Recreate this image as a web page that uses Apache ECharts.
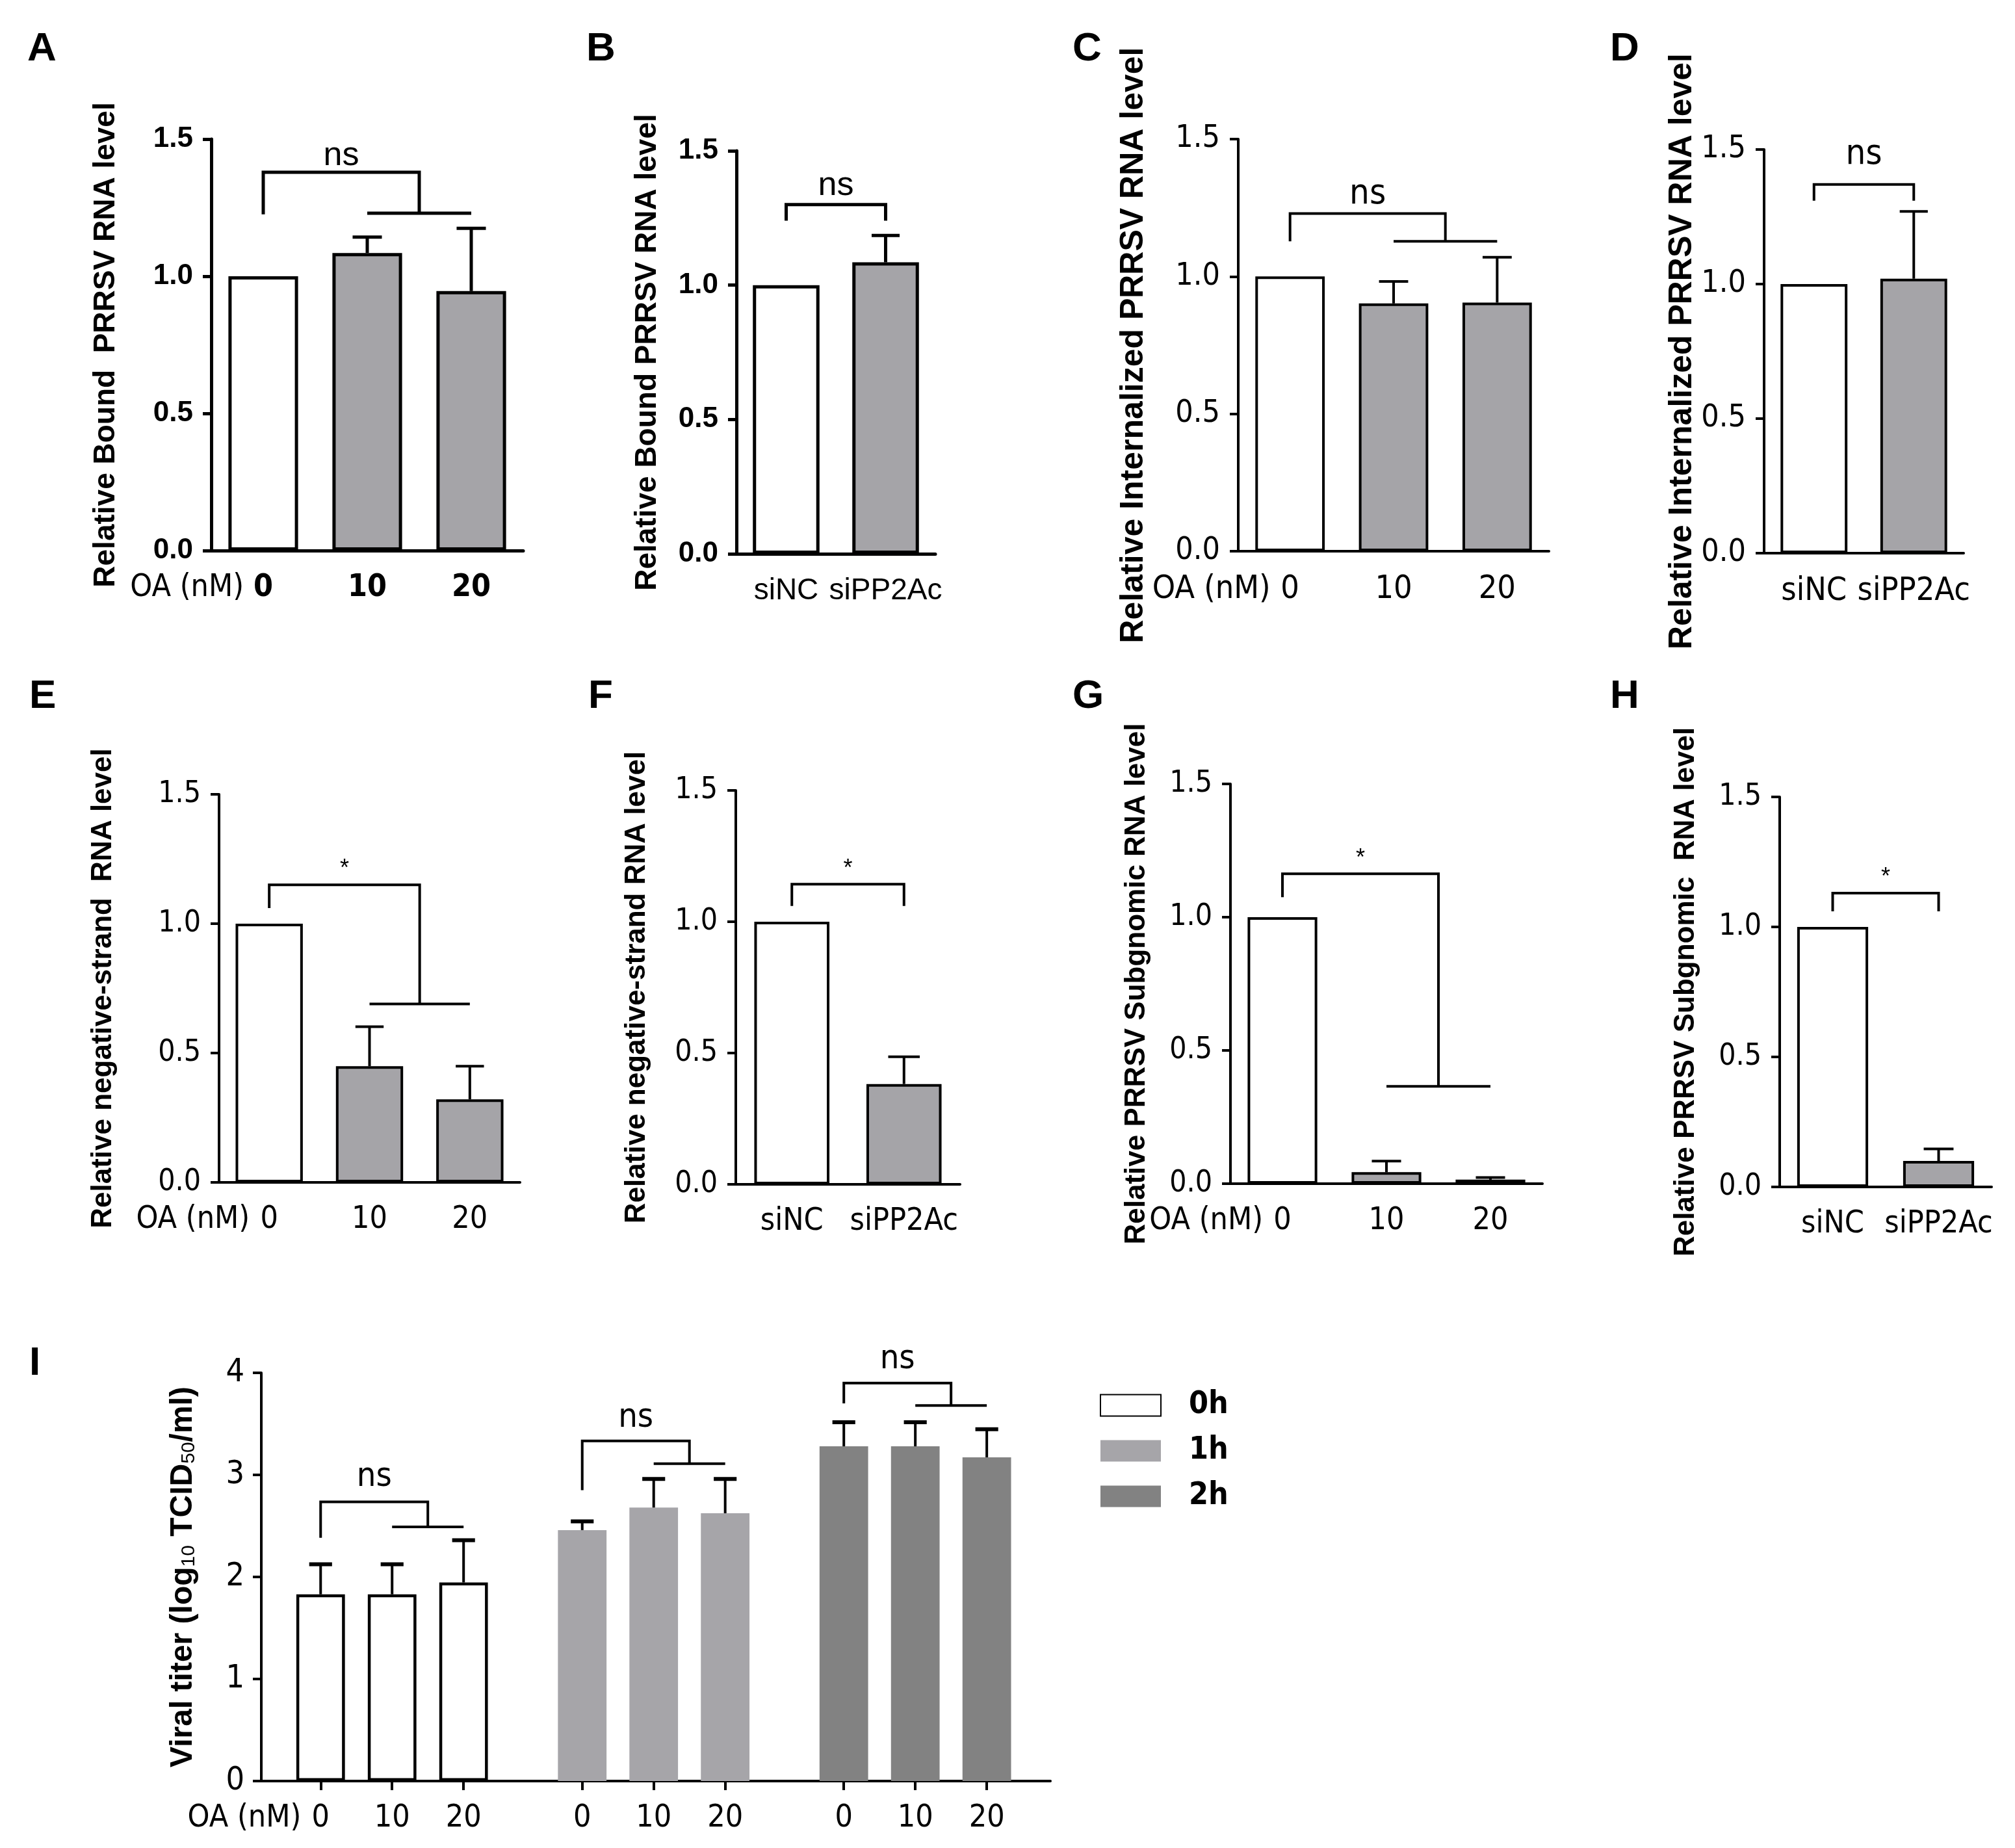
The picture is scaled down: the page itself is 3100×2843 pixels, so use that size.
<!DOCTYPE html>
<html><head><meta charset="utf-8">
<script src="https://cdn.jsdelivr.net/npm/echarts@6/dist/echarts.min.js"></script>
<style>html,body{margin:0;padding:0;background:#fff}#c{width:3100px;height:2843px}</style>
</head><body><div id="c"></div>
<script>
// ================= DATA =================
const doseCats = ['0', '10', '20'];
const siCats = ['siNC', 'siPP2Ac'];
const relTicks = [0, 0.5, 1.0, 1.5];
const titerTicks = [0, 1, 2, 3, 4];
const timeGroups = ['0h', '1h', '2h'];

const A_mean = [1.00, 1.085, 0.946];  const A_err = [0, 0.058, 0.229];
const B_mean = [1.00, 1.085];         const B_err = [0, 0.100];
const C_mean = [1.00, 0.902, 0.905];  const C_err = [0, 0.080, 0.165];
const D_mean = [1.00, 1.020];         const D_err = [0, 0.250];
const E_mean = [1.00, 0.449, 0.321];  const E_err = [0, 0.153, 0.128];
const F_mean = [1.00, 0.382];         const F_err = [0, 0.104];
const G_mean = [1.00, 0.043, 0.015];  const G_err = [0, 0.042, 0.008];
const H_mean = [1.00, 0.100];         const H_err = [0, 0.046];

const I_mean_0h = [1.83, 1.83, 1.946]; const I_err_0h = [0.295, 0.295, 0.414];
const I_mean_1h = [2.459, 2.68, 2.624]; const I_err_1h = [0.086, 0.28, 0.336];
const I_mean_2h = [3.28, 3.28, 3.172];  const I_err_2h = [0.236, 0.236, 0.276];

// significance brackets: [leftCat, rightStart, rightEnd, topY, leftLegY, rightLegY, textY]
const A_sig = [0, 1, 2, 1.379, 1.226, 1.23, 1.44];   const A_sigText = 'ns';
const B_sig = [0, 1, 1, 1.30, 1.24, 1.24, 1.37];     const B_sigText = 'ns';
const C_sig = [0, 1, 2, 1.229, 1.128, 1.128, 1.30];  const C_sigText = 'ns';
const D_sig = [0, 1, 1, 1.37, 1.31, 1.31, 1.48];     const D_sigText = 'ns';
const E_sig = [0, 1, 2, 1.15, 1.06, 0.69, 1.21];     const E_sigText = '*';
const F_sig = [0, 1, 1, 1.143, 1.06, 1.06, 1.20];    const F_sigText = '*';
const G_sig = [0, 1, 2, 1.163, 1.075, 0.365, 1.22];  const G_sigText = '*';
const H_sig = [0, 1, 1, 1.13, 1.06, 1.06, 1.19];     const H_sigText = '*';
// panel I brackets per time group: [group, topY, leftLegY, rightLegY, textY]
const I_sig = [[0, 2.735, 2.383, 2.49, 2.975], [1, 3.333, 2.85, 3.11, 3.56], [2, 3.90, 3.70, 3.68, 4.13]];
const I_sigText = 'ns';

// ================= STYLE / LAYOUT =================
const ARIAL = "'Liberation Sans', Arial, sans-serif";
const NARROW = "'Liberation Sans Narrow', 'Arial Narrow', 'DejaVu Sans Condensed', sans-serif";
const BAR_FRAC = 0.67;
const X_MARGIN = 34;
const styles = {
  ab: {yFont: ARIAL, yW: 'bold', yS: 44, xFont: NARROW, xW: 'bold', xS: 48, sigFont: ARIAL, sigS: 52, sigW: 'normal', tS: 46, lw: 5},
  b:  {yFont: ARIAL, yW: 'bold', yS: 44, xFont: ARIAL, xW: 'normal', xS: 46, sigFont: ARIAL, sigS: 52, sigW: 'normal', tS: 46, lw: 5},
  cd: {yFont: NARROW, yW: 'normal', yS: 48, xFont: NARROW, xW: 'normal', xS: 50, sigFont: NARROW, sigS: 54, sigW: 'normal', tS: 50, lw: 4},
  eh: {yFont: NARROW, yW: 'normal', yS: 46, xFont: NARROW, xW: 'normal', xS: 48, sigFont: ARIAL, sigS: 36, sigW: 'normal', tS: 44, lw: 4}
};

const panels = [
  {k:'A', cats: doseCats, mean: A_mean, err: A_err, sig: A_sig, sigText: A_sigText, box:[325,214,480,633], letter:[37,40], title:'Relative Bound  PRRSV RNA level', nameGap:139, st:'ab', oa:true},
  {k:'B', cats: siCats, mean: B_mean, err: B_err, sig: B_sig, sigText: B_sigText, box:[1133,232,306,620], letter:[897,40], title:'Relative Bound PRRSV RNA level', nameGap:114, st:'b', oa:false},
  {k:'C', cats: doseCats, mean: C_mean, err: C_err, sig: C_sig, sigText: C_sigText, box:[1905,214,478,634], letter:[1645,40], title:'Relative Internalized PRRSV RNA level', nameGap:136, st:'cd', oa:true},
  {k:'D', cats: siCats, mean: D_mean, err: D_err, sig: D_sig, sigText: D_sigText, box:[2714,230,307,621], letter:[2472,40], title:'Relative Internalized PRRSV RNA level', nameGap:100, st:'cd', oa:false},
  {k:'E', cats: doseCats, mean: E_mean, err: E_err, sig: E_sig, sigText: E_sigText, box:[337,1222,463,597], letter:[40,1036], title:'Relative negative-strand  RNA level', nameGap:156, st:'eh', oa:true},
  {k:'F', cats: siCats, mean: F_mean, err: F_err, sig: F_sig, sigText: F_sigText, box:[1132,1216,345,606], letter:[900,1036], title:'Relative negative-strand RNA level', nameGap:130, st:'eh', oa:false},
  {k:'G', cats: doseCats, mean: G_mean, err: G_err, sig: G_sig, sigText: G_sigText, box:[1893,1206,480,615], letter:[1645,1036], title:'Relative PRRSV Subgnomic RNA level', nameGap:122, st:'eh', oa:true},
  {k:'H', cats: siCats, mean: H_mean, err: H_err, sig: H_sig, sigText: H_sigText, box:[2738,1226,326,600], letter:[2472,1036], title:'Relative PRRSV Subgnomic  RNA level', nameGap:122, st:'eh', oa:false}
];

function errRender(barPx, capFrac, lw, capLw) {
  return function (params, api) {
    const x = api.value(0), m = api.value(1), e = api.value(2);
    if (!e) return null;
    const p0 = api.coord([x, m]), p1 = api.coord([x, m + e]);
    const hc = barPx(api) * capFrac / 2;
    return {type: 'group', children: [
      {type: 'line', shape: {x1: p0[0], y1: p0[1], x2: p1[0], y2: p1[1]}, style: {stroke: '#000', lineWidth: lw}},
      {type: 'line', shape: {x1: p1[0] - hc, y1: p1[1], x2: p1[0] + hc, y2: p1[1]}, style: {stroke: '#000', lineWidth: capLw}}
    ]};
  };
}

function sigRender(text, lw, font) {
  return function (params, api) {
    const l = api.value(0), rs = api.value(1), re = api.value(2);
    const top = api.value(3), legL = api.value(4), legR = api.value(5), ty = api.value(6);
    const pL = api.coord([l, top]), pLb = api.coord([l, legL]);
    const pRs = api.coord([rs, legR]), pRe = api.coord([re, legR]);
    const mx = (pRs[0] + pRe[0]) / 2;
    const ch = [{type: 'polyline', shape: {points: [[pL[0], pLb[1]], [pL[0], pL[1]], [mx, pL[1]], [mx, pRs[1]]]},
                 style: {stroke: '#000', fill: 'none', lineWidth: lw}}];
    if (re !== rs) ch.push({type: 'line', shape: {x1: pRs[0], y1: pRs[1], x2: pRe[0], y2: pRe[1]}, style: {stroke: '#000', lineWidth: lw}});
    ch.push({type: 'text', style: {text: text, x: (pL[0] + mx) / 2, y: api.coord([l, ty])[1], align: 'center', verticalAlign: 'middle',
             fontSize: font.size, fontFamily: font.family, fontWeight: font.weight, fill: '#000'}});
    return {type: 'group', children: ch};
  };
}

const grid = [], xAxis = [], yAxis = [], series = [], title = [];

panels.forEach((p, i) => {
  const s = styles[p.st];
  grid.push({left: p.box[0], top: p.box[1], width: p.box[2], height: p.box[3]});
  title.push({text: p.k, left: p.letter[0], top: p.letter[1], textStyle: {fontSize: 62, fontWeight: 'bold', fontFamily: ARIAL, color: '#000'}});
  const band = p.box[2] / p.cats.length;
  xAxis.push({
    gridIndex: i, type: 'category', data: p.cats,
    axisLine: {lineStyle: {color: '#000', width: s.lw}},
    axisTick: {alignWithLabel: true, length: 14, lineStyle: {color: '#000', width: s.lw}},
    axisLabel: {interval: 0, color: '#000', margin: X_MARGIN, fontSize: s.xS, fontFamily: s.xFont, fontWeight: s.xW},
    name: p.oa ? 'OA (nM)' : '', nameLocation: 'start', nameGap: -(band / 2 - 30),
    nameTextStyle: {color: '#000', fontSize: s.xS, fontFamily: s.xFont, fontWeight: 'normal', verticalAlign: 'top', align: 'right', padding: [X_MARGIN, 0, 0, 0]}
  });
  yAxis.push({
    gridIndex: i, type: 'value', min: relTicks[0], max: relTicks[relTicks.length - 1], interval: relTicks[1] - relTicks[0],
    axisLine: {show: true, lineStyle: {color: '#000', width: s.lw}},
    axisTick: {show: true, length: 13, lineStyle: {color: '#000', width: s.lw}},
    splitLine: {show: false},
    axisLabel: {color: '#000', margin: 28, fontSize: s.yS, fontFamily: s.yFont, fontWeight: s.yW, formatter: v => v.toFixed(1)},
    name: p.title, nameLocation: 'middle', nameGap: p.nameGap,
    nameTextStyle: {color: '#000', fontSize: s.tS, fontWeight: 'bold', fontFamily: ARIAL}
  });
  series.push({
    type: 'bar', xAxisIndex: i, yAxisIndex: i, barWidth: (BAR_FRAC * 100) + '%',
    itemStyle: {borderColor: '#000', borderWidth: s.lw},
    data: p.mean.map((v, j) => ({value: v, itemStyle: {color: j === 0 ? '#ffffff' : '#a5a4a8'}}))
  });
  series.push({
    type: 'custom', xAxisIndex: i, yAxisIndex: i, z: 5,
    renderItem: errRender(api => api.size([1, 0])[0] * BAR_FRAC, 0.42, s.lw, s.lw),
    data: p.mean.map((v, j) => [j, v, p.err[j]])
  });
  series.push({
    type: 'custom', xAxisIndex: i, yAxisIndex: i, z: 6,
    renderItem: sigRender(p.sigText, s.lw, {size: s.sigS, family: s.sigFont, weight: s.sigW}),
    data: [p.sig]
  });
});

// ----- panel I -----
const iIdx = panels.length;
const FIRST_OFF = 0.83, GROUP_STEP = 3.66, X_MAX = 11.04, I_BAR = 0.68;
const iPos = (g, d) => FIRST_OFF + g * GROUP_STEP + d;
const iTickPos = [], iTickLab = [];
timeGroups.forEach((t, g) => doseCats.forEach((c, d) => { iTickPos.push(iPos(g, d)); iTickLab.push(c); }));
const iBox = [402, 2112, 1214, 628];
const iUnit = iBox[2] / X_MAX;
grid.push({left: iBox[0], top: iBox[1], width: iBox[2], height: iBox[3]});
title.push({text: 'I', left: 40, top: 2062, textStyle: {fontSize: 62, fontWeight: 'bold', fontFamily: ARIAL, color: '#000'}});
xAxis.push({
  gridIndex: iIdx, type: 'value', min: 0, max: X_MAX,
  axisLine: {show: true, lineStyle: {color: '#000', width: 4}},
  axisTick: {show: true, length: 14, customValues: iTickPos, lineStyle: {color: '#000', width: 4}},
  axisLabel: {color: '#000', margin: X_MARGIN, fontSize: 48, fontFamily: NARROW, customValues: iTickPos,
    formatter: v => { const j = iTickPos.findIndex(q => Math.abs(q - v) < 1e-6); return j >= 0 ? iTickLab[j] : ''; }},
  splitLine: {show: false},
  name: 'OA (nM)', nameLocation: 'start', nameGap: -(iPos(0, 0) * iUnit - 30),
  nameTextStyle: {color: '#000', fontSize: 48, fontFamily: NARROW, verticalAlign: 'top', align: 'right', padding: [X_MARGIN, 0, 0, 0]}
});
yAxis.push({
  gridIndex: iIdx, type: 'value', min: titerTicks[0], max: titerTicks[titerTicks.length - 1], interval: titerTicks[1] - titerTicks[0],
  axisLine: {show: true, lineStyle: {color: '#000', width: 4}},
  axisTick: {show: true, length: 13, lineStyle: {color: '#000', width: 4}},
  splitLine: {show: false},
  axisLabel: {color: '#000', margin: 26, fontSize: 50, fontFamily: NARROW},
  name: 'Viral titer (log{s|10} TCID{s|50}/ml)', nameLocation: 'middle', nameGap: 96,
  nameTextStyle: {color: '#000', fontSize: 48, fontWeight: 'bold', fontFamily: ARIAL,
    rich: {s: {fontSize: 30, fontFamily: ARIAL, fontWeight: 'normal', color: '#000', verticalAlign: 'bottom', padding: [16, 0, 0, 0]}}}
});
const iMeans = [I_mean_0h, I_mean_1h, I_mean_2h];
const iErrs = [I_err_0h, I_err_1h, I_err_2h];
const iColors = [{color: '#ffffff', borderColor: '#000', borderWidth: 4.5}, {color: '#a6a5a9'}, {color: '#828282'}];
timeGroups.forEach((t, g) => {
  series.push({
    name: t, type: 'bar', xAxisIndex: iIdx, yAxisIndex: iIdx, barWidth: iUnit * I_BAR, barGap: '-100%',
    itemStyle: iColors[g],
    data: iMeans[g].map((v, d) => [iPos(g, d), v])
  });
  series.push({
    type: 'custom', xAxisIndex: iIdx, yAxisIndex: iIdx, z: 5,
    renderItem: errRender(api => api.size([1, 0])[0] * I_BAR, 0.47, 4, 6),
    data: iMeans[g].map((v, d) => [iPos(g, d), v, iErrs[g][d]])
  });
});
series.push({
  type: 'custom', xAxisIndex: iIdx, yAxisIndex: iIdx, z: 6,
  renderItem: sigRender(I_sigText, 4, {size: 52, family: NARROW, weight: 'normal'}),
  data: I_sig.map(b => [iPos(b[0], 0), iPos(b[0], 1), iPos(b[0], 2), b[1], b[2], b[3], b[4]])
});

const chart = echarts.init(document.getElementById('c'), null, {renderer: 'canvas'});
chart.setOption({
  animation: false,
  backgroundColor: '#ffffff',
  title: title,
  legend: {
    data: timeGroups, orient: 'vertical', left: 1687, top: 2133, icon: 'rect',
    itemWidth: 93, itemHeight: 33, itemGap: 22,
    textStyle: {fontSize: 48, fontWeight: 'bold', fontFamily: NARROW, color: '#000', padding: [0, 0, 0, 38]}
  },
  grid: grid, xAxis: xAxis, yAxis: yAxis, series: series
});
</script></body></html>
